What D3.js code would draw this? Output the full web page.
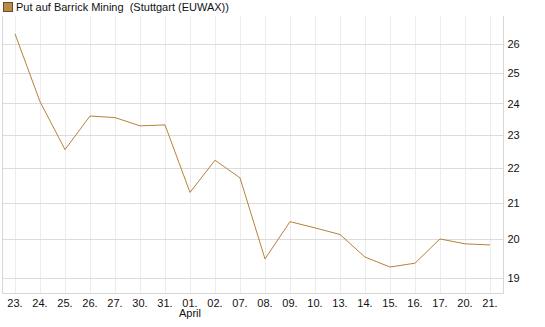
<!DOCTYPE html>
<html>
<head>
<meta charset="utf-8">
<script src="https://cdn.jsdelivr.net/npm/d3@7"></script>
<style>
  body { margin: 0; background: #fff; }
  text { font-family: "Liberation Sans", Arial, sans-serif; }
</style>
</head>
<body>
<div id="chart"></div>
<script>
const days = ["23.", "24.", "25.", "26.", "27.", "30.", "31.", "01.", "02.", "07.",
    "08.", "09.", "10.", "13.", "14.", "15.", "16.", "17.", "20.", "21."]
const prices = [26.35, 24.06, 22.56, 23.6, 23.55, 23.29, 23.32, 21.3, 22.24, 21.72,
    19.48, 20.48, 20.31, 20.13, 19.53, 19.27, 19.37, 20.01, 19.88, 19.85]
const yTicks = [19, 20, 21, 22, 23, 24, 25, 26]
const title = "Put auf Barrick Mining  (Stuttgart (EUWAX))"
const monthLabel = { "01.": "April" }

const W = 545, H = 327
const PLOT = { left: 2.5, right: 503.5, top: 16, bottom: 293 }
const lineColor = "#b5833a"

const svg = d3.select("#chart").append("svg")
    .attr("width", W)
    .attr("height", H)

const x = d3.scaleBand()
    .domain(days)
    .range([PLOT.left, PLOT.right - 1])

const y = d3.scaleLog()
    .domain([18.61, 26.99])
    .range([PLOT.bottom, PLOT.top])

const cx = d => x(d) + x.bandwidth() / 2

// vertical grid
svg.append("g")
    .selectAll("line")
    .data(days)
    .join("line")
    .attr("x1", d => Math.round(cx(d)) + 0.5)
    .attr("x2", d => Math.round(cx(d)) + 0.5)
    .attr("y1", PLOT.top)
    .attr("y2", PLOT.bottom)
    .attr("stroke", "#ececec")

// horizontal grid
svg.append("g")
    .selectAll("line")
    .data(yTicks)
    .join("line")
    .attr("x1", PLOT.left)
    .attr("x2", PLOT.right)
    .attr("y1", d => Math.round(y(d)) + 0.5)
    .attr("y2", d => Math.round(y(d)) + 0.5)
    .attr("stroke", "#dcdcdc")

// frame: left, right, bottom
svg.append("path")
    .attr("d", `M${PLOT.left},${PLOT.top}V${PLOT.bottom + 0.5}H${PLOT.right}V${PLOT.top}`)
    .attr("fill", "none")
    .attr("stroke", "#d6d6d6")

// y axis labels on the right
const yAxis = d3.axisRight(y)
    .tickValues(yTicks)
    .tickFormat(d3.format("d"))
    .tickSize(0)
    .tickPadding(4)

svg.append("g")
    .attr("transform", `translate(${PLOT.right},0)`)
    .call(yAxis)
    .call(g => g.select(".domain").remove())
    .call(g => g.selectAll("text")
        .attr("fill", "#111")
        .style("font-size", "11px")
        .style("font-family", "Liberation Sans, Arial, sans-serif"))

// x axis labels
const xAxis = d3.axisBottom(x)
    .tickSize(0)
    .tickPadding(6)

svg.append("g")
    .attr("transform", `translate(0,${PLOT.bottom})`)
    .call(xAxis)
    .call(g => g.select(".domain").remove())
    .call(g => g.selectAll("text")
        .attr("fill", "#111")
        .style("font-size", "11px")
        .style("font-family", "Liberation Sans, Arial, sans-serif"))

svg.append("g")
    .selectAll("text")
    .data(days.filter(d => monthLabel[d]))
    .join("text")
    .attr("x", d => cx(d))
    .attr("y", 317)
    .attr("text-anchor", "middle")
    .attr("fill", "#111")
    .style("font-size", "11px")
    .text(d => monthLabel[d])

// price line
const line = d3.line()
    .x((d, i) => cx(days[i]))
    .y(d => y(d))

svg.append("path")
    .datum(prices)
    .attr("d", line)
    .attr("fill", "none")
    .attr("stroke", lineColor)
    .attr("stroke-width", 1)

// legend
svg.append("rect")
    .attr("x", 3.5)
    .attr("y", 2.5)
    .attr("width", 9)
    .attr("height", 9)
    .attr("fill", "#b98a4a")
    .attr("stroke", "#6b4d22")

svg.append("text")
    .attr("x", 16)
    .attr("y", 11)
    .attr("fill", "#111")
    .style("font-size", "11px")
    .style("white-space", "pre")
    .text(title)
</script>
</body>
</html>
